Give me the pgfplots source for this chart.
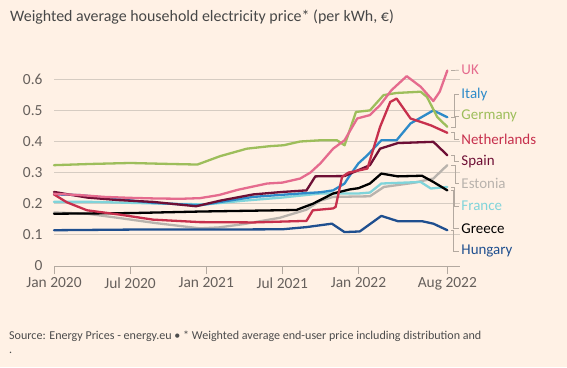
\documentclass[border=0pt]{standalone}
\usepackage{pgfplots}
\pgfplotsset{compat=1.18}
\usepackage{fontspec}
\setmainfont{Carlito}
\definecolor{bg}{HTML}{FFF1E5}
\definecolor{gridc}{HTML}{D6CCC2}
\definecolor{basec}{HTML}{B3A9A0}
\definecolor{tickc}{HTML}{66605C}
\definecolor{ukc}{HTML}{E56B8E}
\definecolor{itc}{HTML}{2E8BC9}
\definecolor{dec}{HTML}{9DBE5B}
\definecolor{nlc}{HTML}{C7304D}
\definecolor{esc}{HTML}{6E0F35}
\definecolor{eec}{HTML}{B9B3AD}
\definecolor{frc}{HTML}{80D4DA}
\definecolor{grc}{HTML}{000000}
\definecolor{huc}{HTML}{1F4F8F}
\begin{document}
\begin{tikzpicture}[x=1bp,y=1bp]
\fill[bg] (0,0) rectangle (567,367);
\node[anchor=west, inner sep=0pt, font=\fontsize{16}{18}\selectfont, text=black!72] at (10,350) {Weighted average household electricity price* (per kWh, €)};
\node[anchor=west, inner sep=0pt, font=\fontsize{12.1}{14}\selectfont, text=black!70] at (9,31) {Source: Energy Prices - energy.eu • * Weighted average end-user price including distribution and};
\node[anchor=west, inner sep=0pt, font=\fontsize{12}{14}\selectfont, text=black!70] at (9,14) {.};
\begin{axis}[
  at={(54bp,101bp)}, anchor=south west, scale only axis,
  width=406bp, height=205.4bp,
  xmin=0, xmax=32, ymin=0, ymax=0.66,
  axis line style={draw=none},
  ymajorgrids, grid style={gridc, line width=0.8bp},
  ytick={0,0.1,0.2,0.3,0.4,0.5,0.6},
  xtick={0,6,12,18,24,31},
  xticklabels={Jan 2020, Jul 2020, Jan 2021, Jul 2021, Jan 2022, Aug 2022},
  xtick pos=bottom, tick align=outside,
  major tick length=8bp,
  xtick style={basec, line width=0.9bp},
  ytick style={draw=none},
  ticklabel style={font=\fontsize{15.5}{17}\selectfont, text=tickc},
  /pgf/number format/assume math mode=true,
  clip=false,
  every axis plot/.append style={line width=2.3bp, line join=round, line cap=round, mark=none},
]
\draw[basec, line width=0.9bp] (axis cs:0,0) -- (axis cs:32,0);
% Estonia
\addplot[eec] coordinates {(0,0.172) (2.6,0.168) (5,0.155) (8,0.138) (11.5,0.121) (13,0.124) (15,0.135) (17.8,0.155) (19.9,0.181) (21,0.21) (22,0.222) (24.9,0.224) (26,0.254) (28.3,0.267) (29.9,0.281) (31,0.324)};
% France
\addplot[frc] coordinates {(0,0.206) (3,0.206) (6,0.203) (9,0.2) (12,0.198) (15,0.21) (18,0.22) (21,0.233) (24,0.233) (24.9,0.236) (25.8,0.265) (28.9,0.27) (29.7,0.249) (31,0.254)};
% Hungary
\addplot[huc] coordinates {(0,0.115) (6,0.117) (12,0.117) (18,0.118) (19.9,0.125) (21.9,0.136) (22.9,0.109) (24.1,0.111) (25.8,0.161) (27.1,0.144) (29,0.144) (29.9,0.136) (31,0.115)};
% Greece
\addplot[grc] coordinates {(0,0.168) (6,0.17) (11.5,0.175) (19.1,0.18) (20.4,0.2) (22,0.233) (23.3,0.246) (24,0.25) (24.9,0.265) (25.8,0.297) (27.1,0.288) (29,0.29) (29.9,0.27) (31,0.243)};
% Italy
\addplot[itc] coordinates {(0,0.23) (2,0.228) (3.9,0.22) (7.8,0.203) (11.5,0.195) (13,0.205) (15.7,0.222) (19.4,0.233) (21,0.237) (22,0.243) (22.9,0.265) (23.3,0.29) (24,0.33) (24.7,0.356) (25.8,0.404) (27,0.404) (28.1,0.458) (29.9,0.5) (31,0.478)};
% Spain
\addplot[esc] coordinates {(0,0.238) (2.6,0.22) (5,0.212) (7.8,0.206) (11.2,0.192) (13.1,0.21) (15.7,0.23) (18,0.238) (19.9,0.243) (20.6,0.288) (22.9,0.289) (24.9,0.324) (25.7,0.377) (27.1,0.395) (29.9,0.399) (31,0.356)};
% Netherlands
\addplot[nlc] coordinates {(0,0.23) (1,0.205) (2.6,0.179) (5.2,0.165) (7.8,0.149) (11.5,0.141) (15.7,0.14) (19.9,0.145) (20.4,0.179) (22,0.185) (22.2,0.19) (22.7,0.286) (23.2,0.3) (24.7,0.313) (25.7,0.447) (26.5,0.527) (27,0.538) (28.1,0.474) (29.7,0.452) (31,0.428)};
% Germany
\addplot[dec] coordinates {(0,0.324) (3,0.328) (6,0.331) (9,0.328) (11.3,0.326) (13.1,0.353) (15.2,0.377) (17,0.385) (18.1,0.388) (19.4,0.4) (21,0.404) (22.3,0.404) (22.9,0.388) (23.8,0.495) (24.9,0.5) (25.97,0.549) (27,0.556) (28.9,0.56) (29.4,0.543) (30.2,0.479) (31,0.447)};
% UK
\addplot[ukc] coordinates {(0,0.232) (2,0.228) (4,0.222) (6,0.219) (8,0.217) (10,0.216) (11.5,0.218) (13,0.228) (14.5,0.245) (16.8,0.265) (18,0.268) (19.4,0.281) (20.2,0.3) (21,0.33) (22,0.377) (22.9,0.404) (23.9,0.474) (24.9,0.485) (25.7,0.517) (26.6,0.565) (27.8,0.61) (28.9,0.576) (29.9,0.53) (30.4,0.56) (31,0.628)};
% connectors
\begin{scope}[basec, line width=0.7bp]
\draw (axis cs:31.3,0.628) -- (axis cs:31.9,0.629);
\draw (axis cs:31.3,0.478) -- (axis cs:31.55,0.478) -- (axis cs:31.55,0.552) -- (axis cs:31.9,0.552);
\draw (axis cs:31.3,0.447) -- (axis cs:31.6,0.447) -- (axis cs:31.6,0.481) -- (axis cs:31.9,0.481);
\draw (axis cs:31.3,0.428) -- (axis cs:31.55,0.428) -- (axis cs:31.55,0.407) -- (axis cs:31.9,0.407);
\draw (axis cs:31.3,0.356) -- (axis cs:31.55,0.356) -- (axis cs:31.55,0.337) -- (axis cs:31.9,0.337);
\draw (axis cs:31.3,0.324) -- (axis cs:31.6,0.324) -- (axis cs:31.6,0.266) -- (axis cs:31.9,0.266);
\draw (axis cs:31.3,0.254) -- (axis cs:31.55,0.254) -- (axis cs:31.55,0.192) -- (axis cs:31.9,0.192);
\draw (axis cs:31.3,0.243) -- (axis cs:31.5,0.243) -- (axis cs:31.5,0.121) -- (axis cs:31.9,0.121);
\draw (axis cs:31.3,0.115) -- (axis cs:31.45,0.115) -- (axis cs:31.45,0.047) -- (axis cs:31.9,0.047);
\end{scope}
\begin{scope}[every node/.style={anchor=west, inner sep=0pt, font=\fontsize{15}{17}\selectfont}]
\node[text=ukc] at (axis cs:32.1,0.629) {UK};
\node[text=itc] at (axis cs:32.1,0.552) {Italy};
\node[text=dec] at (axis cs:32.1,0.481) {Germany};
\node[text=nlc] at (axis cs:32.1,0.407) {Netherlands};
\node[text=esc] at (axis cs:32.1,0.337) {Spain};
\node[text=eec] at (axis cs:32.1,0.266) {Estonia};
\node[text=frc] at (axis cs:32.1,0.192) {France};
\node[text=grc] at (axis cs:32.1,0.121) {Greece};
\node[text=huc] at (axis cs:32.1,0.047) {Hungary};
\end{scope}
\end{axis}
\end{tikzpicture}
\end{document}
